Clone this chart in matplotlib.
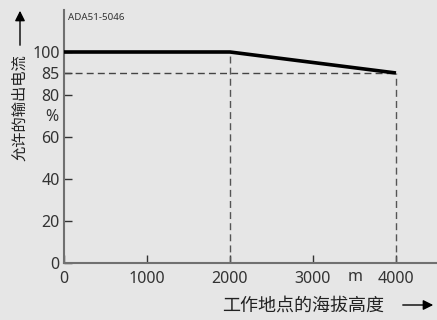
import numpy as np
import matplotlib
matplotlib.use('Agg')
import matplotlib.pyplot as plt
from matplotlib.patches import FancyArrowPatch

plt.rcParams['font.family'] = ['Noto Sans CJK SC', 'DejaVu Sans']

altitude = [0, 2000, 4000]
current = [100, 100, 85]
x_ticks = [0, 1000, 2000, 3000, 4000]
y_ticks = [0, 20, 40, 60, 80, 85, 100]

# the printed y axis is not linear: 80..85 is stretched, 85..100 squeezed
y_vals = [0, 80, 85, 100, 120]
y_pos = [0, 168, 190, 211, 253]


def fwd(v):
    return np.interp(v, y_vals, y_pos)


def inv(p):
    return np.interp(p, y_pos, y_vals)


bg = '#e6e6e6'
axis_col = '#707070'
txt_col = '#333333'

fig = plt.figure(figsize=(4.37, 3.2), dpi=100, facecolor=bg)
W, H = 437, 320
ax = fig.add_axes([64 / W, 57 / H, (437 - 64) / W, (263 - 10) / H])
ax.set_facecolor(bg)
ax.set_yscale('function', functions=(fwd, inv))

ax.plot(altitude, current, color='black', lw=2.6, solid_capstyle='butt', zorder=3)
ax.plot([0, 4000], [85, 85], color='#444444', lw=1, ls=(0, (5, 3)))
ax.plot([2000, 2000], [0, 100], color='#555555', lw=1, ls=(0, (5, 3)))
ax.plot([4000, 4000], [0, 85], color='#555555', lw=1, ls=(0, (5, 3)))

ax.set_xlim(0, 4494)
ax.set_ylim(0, 120)
for s in ['top', 'right']:
    ax.spines[s].set_visible(False)
for s in ['left', 'bottom']:
    ax.spines[s].set_color(axis_col)
    ax.spines[s].set_linewidth(1.5)

ax.set_xticks(x_ticks)
ax.set_xticklabels([str(v) for v in x_ticks])
ax.set_yticks(y_ticks)
ax.set_yticklabels([str(v) for v in y_ticks])
ax.minorticks_off()
ax.tick_params(direction='in', length=6, width=1, color='#333333',
               labelsize=11.5, labelcolor=txt_col, pad=3)
ax.tick_params(axis='x', pad=6)
for lab in ax.get_xticklabels() + ax.get_yticklabels():
    lab.set_family(['Noto Sans', 'DejaVu Sans'])

fig.text(68 / W, 1 - 18 / H, 'ADA51-5046', fontsize=7, color=txt_col,
         family=['Noto Sans', 'DejaVu Sans'], va='center', ha='left')
fig.text(52 / W, 1 - 117 / H, '%', fontsize=11.5, color=txt_col,
         family=['Noto Sans', 'DejaVu Sans'], ha='center', va='center')
fig.text(355 / W, 1 - 277 / H, 'm', fontsize=11.5, color=txt_col,
         family=['Noto Sans', 'DejaVu Sans'], ha='center', va='center')

fig.text(20 / W, 1 - 108 / H, '允许的输出电流', rotation=90, fontsize=11,
         color='#222222', ha='center', va='center')
fig.text(303 / W, 1 - 306 / H, '工作地点的海拔高度', fontsize=13,
         color='#222222', ha='center', va='center')

fig.add_artist(FancyArrowPatch(
    (20 / W, 1 - 48 / H), (20 / W, 1 - 8 / H), transform=fig.transFigure,
    arrowstyle='-|>,head_length=6,head_width=3', color='black', lw=1))
fig.add_artist(FancyArrowPatch(
    (400 / W, 1 - 305 / H), (436 / W, 1 - 305 / H), transform=fig.transFigure,
    arrowstyle='-|>,head_length=6,head_width=3', color='black', lw=1))

fig.savefig('out.png', dpi=100, facecolor=bg)
